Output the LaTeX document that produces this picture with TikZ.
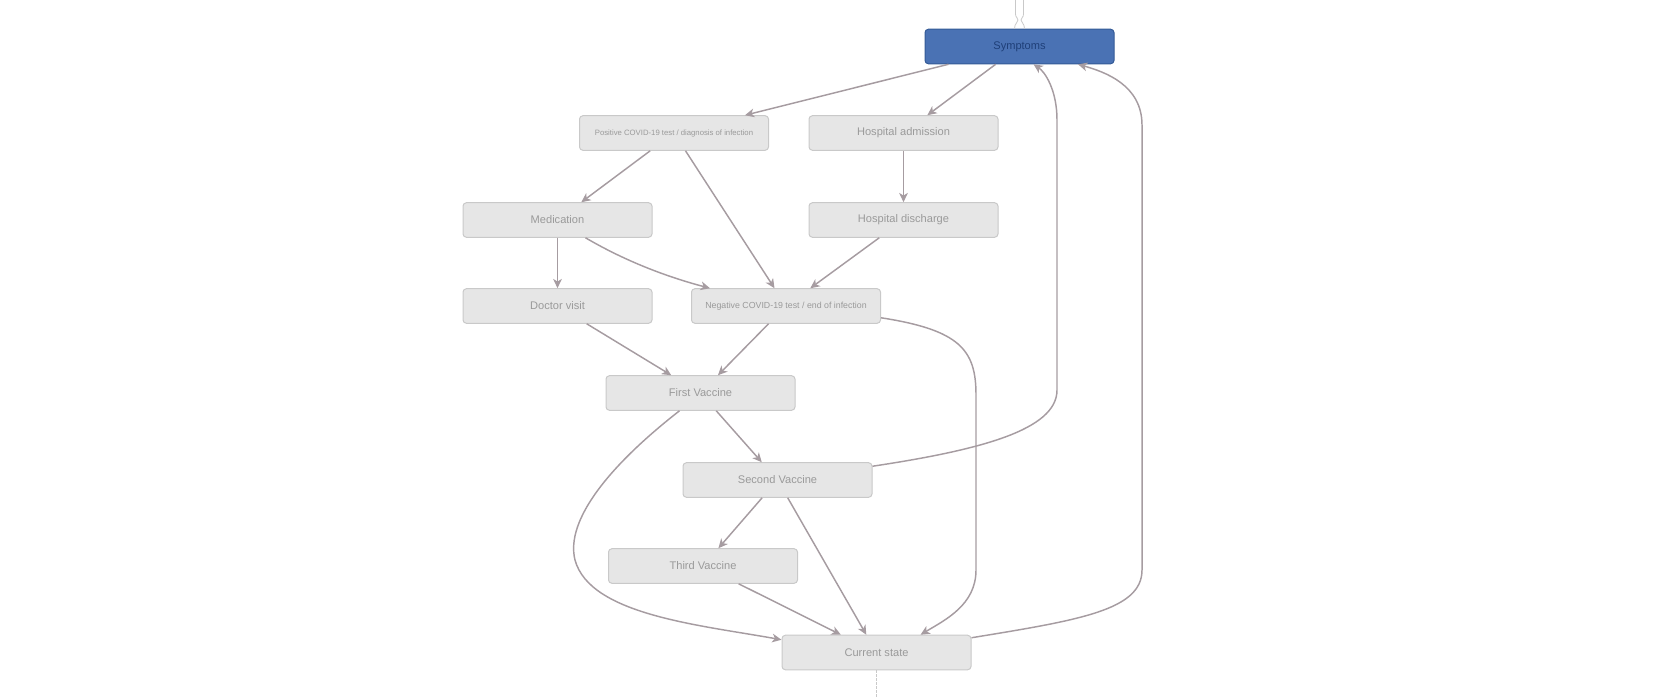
\documentclass[tikz,border=0pt]{standalone}
\usepackage{fontspec}
\setmainfont{Liberation Sans}
\usetikzlibrary{arrows.meta,calc}

\definecolor{boxfill}{HTML}{E6E6E6}
\definecolor{boxline}{HTML}{C9C9C9}
\definecolor{boxtext}{HTML}{9A9A9A}
\definecolor{edgecol}{HTML}{A69CA1}
\definecolor{sympfill}{HTML}{4A72B4}
\definecolor{sympline}{HTML}{345A96}
\definecolor{symptext}{HTML}{1F3F78}

\tikzset{every picture/.style={line width=0.75pt}}
\tikzset{
  state/.style={draw=boxline, fill=boxfill, rounded corners=2.5pt, minimum width=141.75pt, minimum height=25.9pt, inner sep=0pt, text=boxtext, font=\fontsize{8.3}{10}\selectfont},
  small/.style={font=\fontsize{5.8}{7}\selectfont},
  flow/.style={draw=edgecol, line width=1.1pt, -{Stealth[length=7pt,width=6.5pt,inset=2pt]}},
}

\begin{document}
\begin{tikzpicture}[x=0.75pt,y=0.75pt,yscale=-1,xscale=1]
\useasboundingbox (0,0) rectangle (1673,697);

% States
\node[state, fill=sympfill, draw=sympline, text=symptext] (symp) at (1019.5,46.5) {Symptoms};
\node[state, small] (pos) at (674,133) {Positive COVID-19 test / diagnosis of infection};
\node[state] (hadm) at (903.5,133) {Hospital admission};
\node[state] (med) at (557.5,220) {Medication};
\node[state] (hdis) at (903.5,220) {Hospital discharge};
\node[state] (doc) at (557.5,306) {Doctor visit};
\node[state, font=\fontsize{6.6}{8}\selectfont] (neg) at (786,306) {Negative COVID-19 test / end of infection};
\node[state] (first) at (700.5,393) {First Vaccine};
\node[state] (second) at (777.5,480) {Second Vaccine};
\node[state] (third) at (703,566) {Third Vaccine};
\node[state] (cur) at (876.5,652.5) {Current state};

%Loose ends
\coordinate (topin) at (1019.5,0);
\coordinate (botout) at (876.5,697);
\draw[draw=boxline, line width=0.6pt] ($(topin)+(-4,0)$) -- ($(topin)+(-4,14)$) .. controls ($(topin)+(-4,18)$) and ($(topin)+(-1.5,17)$) .. ($(topin)+(-1.5,20)$) .. controls ($(topin)+(-1.5,23)$) and ($(topin)+(-5,23)$) .. ($(symp.north)+(-5,0)$);
\draw[draw=boxline, line width=0.6pt] ($(topin)+(4,0)$) -- ($(topin)+(4,14)$) .. controls ($(topin)+(4,18)$) and ($(topin)+(1.5,17)$) .. ($(topin)+(1.5,20)$) .. controls ($(topin)+(1.5,23)$) and ($(topin)+(5,23)$) .. ($(symp.north)+(5,0)$);
\draw[draw=boxline, line width=0.5pt, dash pattern=on 2pt off 1pt] (cur) -- (botout);

%Straight Lines
\draw[flow] (symp) -- (pos);
\draw[flow] (symp) -- (hadm);
\draw[flow] (pos) -- (med);
\draw[flow] (pos) -- (neg);
\draw[flow] (hadm) -- (hdis);
\draw[flow] (med) -- (doc);
\draw[flow] (hdis) -- (neg);
\draw[flow] (doc) -- (first);
\draw[flow] (neg) -- (first);
\draw[flow] (first) -- (second);
\draw[flow] (second) -- (third);
\draw[flow] (second) -- (cur);
\draw[flow] (third) -- (cur);

%Curve Lines
\draw[flow] ($(med.south)+(28,0)$) .. controls (620,258) and (660,275) .. ($(neg.north)+(-76,0)$);
\draw[flow] ($(neg.south east)+(0,-6)$) .. controls (960,330) and (976,350) .. (976,395) -- (976,570) .. controls (976,605) and (945,620) .. ($(cur.north)+(44,0)$);
\draw[flow] ($(first.south)+(-21,0)$) .. controls (610,465) and (565,520) .. (575,560) .. controls (590,615) and (700,625) .. ($(cur.north west)+(0,5)$);
\draw[flow] ($(second.north east)+(0,4)$) .. controls (980,450) and (1057,430) .. (1057,390) -- (1057,120) .. controls (1057,90) and (1045,72) .. ($(symp.south)+(14,0)$);
\draw[flow] ($(cur.north east)+(0,3)$) .. controls (1080,620) and (1142,610) .. (1142,570) -- (1142,125) .. controls (1142,85) and (1105,72) .. ($(symp.south)+(58.5,0)$);

\end{tikzpicture}
\end{document}
